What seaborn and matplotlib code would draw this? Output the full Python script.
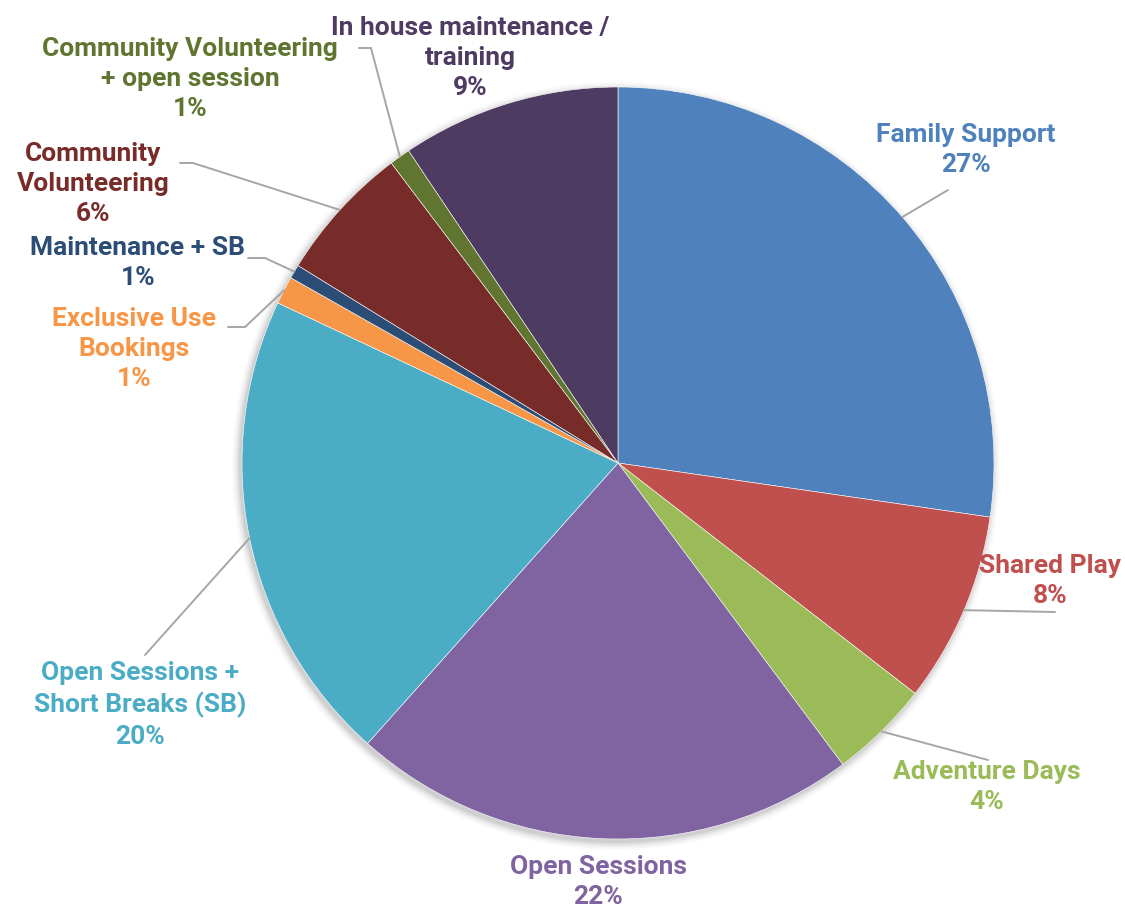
import numpy as np
import matplotlib
matplotlib.use("Agg")
import matplotlib.pyplot as plt
import seaborn as sns

# ---- data ----
categories = [
    "Family Support",
    "Shared Play",
    "Adventure Days",
    "Open Sessions",
    "Open Sessions +\nShort Breaks (SB)",
    "Exclusive Use\nBookings",
    "Maintenance + SB",
    "Community\nVolunteering",
    "Community Volunteering\n+ open session",
    "In house maintenance /\ntraining",
]
values = [27.3, 8.2, 4.3, 21.8, 20.4, 1.2, 0.6, 5.9, 0.9, 9.4]
colors = ["#4F81BD", "#C0504D", "#9BBB59", "#8064A2", "#4BACC6",
          "#F79646", "#2C4D75", "#772C2A", "#5F7530", "#4D3B62"]

# ---- layout (pixel coordinates, y measured from top) ----
W, H = 1125, 908
CX, CY, R = 618, 463, 376
label_pos = [(966, 150), (1050, 581), (987, 787), (598, 882), (140, 705),
             (134, 349), (138, 263), (93, 184), (190, 79), (470, 58)]
leader_pts = [
    [(948, 190)],
    [(1055, 612)],
    [(988, 760)],
    None,
    [(145, 655)],
    [(245, 327), (228, 327)],
    [(265, 258), (248, 258)],
    [(193, 163), (180, 163)],
    [(371, 48), (359, 48)],
    None,
]

sns.set_theme(style="white")
plt.rcParams["font.family"] = ["Roboto", "DejaVu Sans"]
palette = sns.color_palette(colors)

fig = plt.figure(figsize=(W / 100, H / 100), dpi=100)
ax = fig.add_axes([0, 0, 1, 1])
ax.set_xlim(0, W)
ax.set_ylim(0, H)
ax.set_aspect("equal")
ax.axis("off")

# soft shadow
for i, a in enumerate(np.linspace(0.05, 0.01, 6)):
    sh = plt.Circle((CX - 2, H - CY - 3), R + 1 + i * 1.5, color="black", alpha=a, lw=0, zorder=0)
    ax.add_patch(sh)

wedges, _ = ax.pie(values, colors=palette, startangle=90, counterclock=False,
                   center=(CX, H - CY), radius=R, frame=True,
                   wedgeprops=dict(linewidth=0.4, edgecolor="white"))
ax.set_xlim(0, W)
ax.set_ylim(0, H)
ax.axis("off")

total = sum(values)
for w, cat, v, col, pos, pts in zip(wedges, categories, values, colors, label_pos, leader_pts):
    mid = np.deg2rad((w.theta1 + w.theta2) / 2)
    if pts is not None:
        x0 = CX + R * np.cos(mid)
        y0 = (H - CY) + R * np.sin(mid)
        xs = [x0] + [p[0] for p in pts]
        ys = [y0] + [H - p[1] for p in pts]
        ax.plot(xs, ys, color="#A6A6A6", lw=1.4, zorder=5)
    ax.text(pos[0], H - pos[1], f"{cat}\n{round(v / total * 100)}%", color=col,
            ha="center", va="center", fontsize=19, fontweight="bold",
            linespacing=1.33, zorder=6)

fig.savefig("out.png", dpi=100)
